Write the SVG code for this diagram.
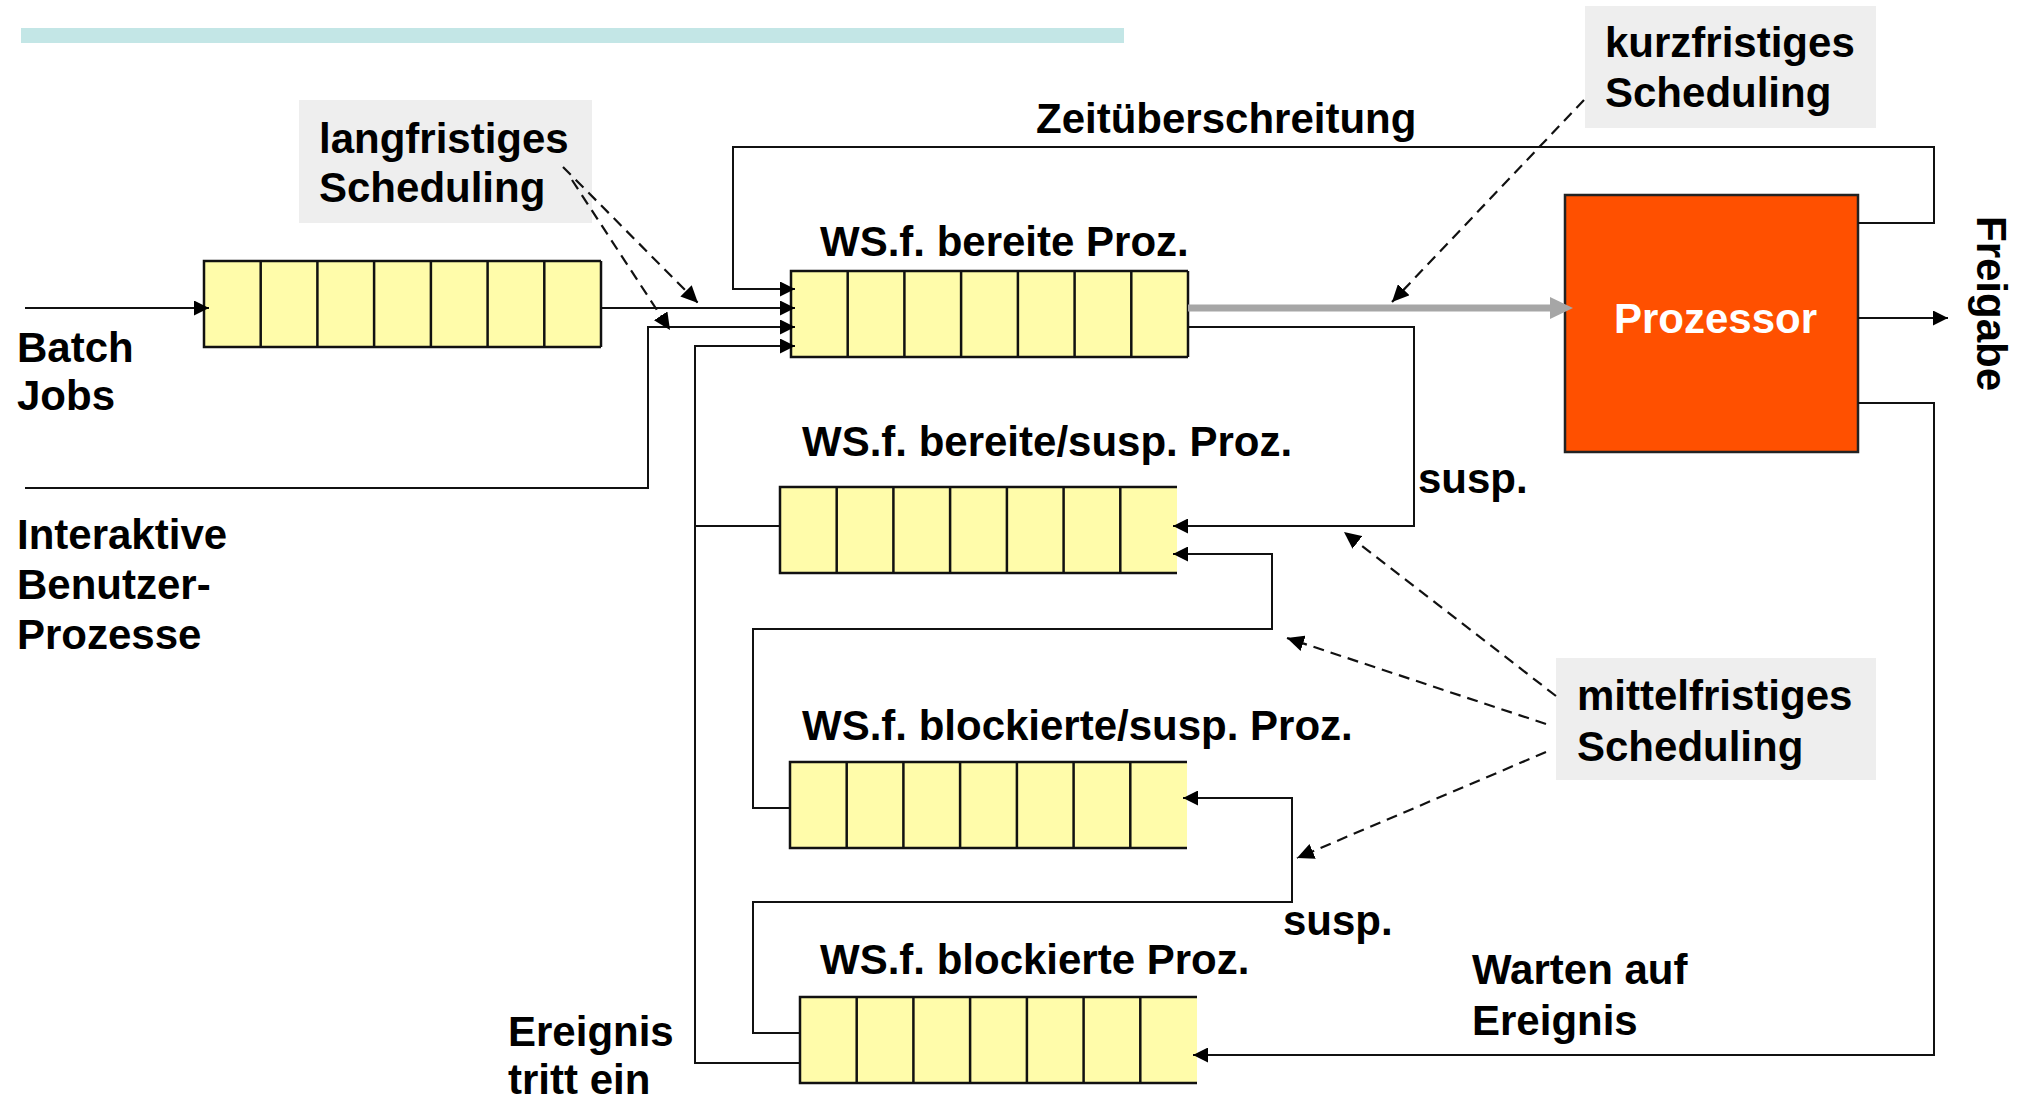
<svg xmlns="http://www.w3.org/2000/svg" xmlns:xlink="http://www.w3.org/1999/xlink" width="2029" height="1104" viewBox="0 0 2029 1104">
<style>
text{font-family:"Liberation Sans",Arial,sans-serif;font-weight:bold;font-size:42px;fill:#000}
.lbl{fill:#eeeeee}
.qf{fill:#fffcaa;stroke:none}
.qs{fill:none;stroke:#111;stroke-width:2.5}
.c{fill:none;stroke:#111;stroke-width:2}
.d{fill:none;stroke:#111;stroke-width:2.2;stroke-dasharray:11 7}
.g{fill:none;stroke:#a6a6a6;stroke-width:7}
</style>
<defs>
<marker id="ah" viewBox="0 0 15 15" refX="15" refY="7.5" markerWidth="15" markerHeight="15" markerUnits="userSpaceOnUse" orient="auto"><path d="M0,0 L15,7.5 L0,15 z" fill="#000"/></marker>
<marker id="ahd" viewBox="0 0 17 16" refX="17" refY="8" markerWidth="17" markerHeight="16" markerUnits="userSpaceOnUse" orient="auto"><path d="M0,0 L17,8 L0,16 z" fill="#000"/></marker>
<marker id="ahg" viewBox="0 0 23 22" refX="5" refY="11" markerWidth="23" markerHeight="22" markerUnits="userSpaceOnUse" orient="auto"><path d="M0,0 L23,11 L0,22 z" fill="#a6a6a6"/></marker>
<g id="qopen">
<rect class="qf" x="0" y="0" width="397" height="86"/>
<path class="qs" d="M397,0 H0 V86 H397 M56.7,0 V86 M113.4,0 V86 M170.1,0 V86 M226.9,0 V86 M283.6,0 V86 M340.3,0 V86"/>
</g>
<g id="qclosed">
<use xlink:href="#qopen" href="#qopen"/>
<path class="qs" d="M397,0 V86"/>
</g>
</defs>

<rect id="topbar" x="21" y="28" width="1103" height="15" fill="#c3e6e6"/>

<g id="label-langfristig">
<rect class="lbl" x="299" y="100" width="293" height="123"/>
<text x="319" y="153">langfristiges</text>
<text x="319" y="202">Scheduling</text>
</g>

<g id="label-kurzfristig">
<rect class="lbl" x="1585" y="6" width="291" height="122"/>
<text x="1605" y="57">kurzfristiges</text>
<text x="1605" y="107">Scheduling</text>
</g>

<g id="label-mittelfristig">
<rect class="lbl" x="1556" y="658" width="320" height="122"/>
<text x="1577" y="710">mittelfristiges</text>
<text x="1577" y="761">Scheduling</text>
</g>

<g id="batch-queue">
<use xlink:href="#qclosed" href="#qclosed" x="204" y="261"/>
<text x="17" y="362">Batch</text>
<text x="17" y="410">Jobs</text>
</g>

<g id="interaktiv">
<text x="17" y="549">Interaktive</text>
<text x="17" y="599">Benutzer-</text>
<text x="17" y="649">Prozesse</text>
</g>

<g id="ws-bereite">
<use xlink:href="#qclosed" href="#qclosed" x="791" y="271"/>
<text x="820" y="256">WS.f. bereite Proz.</text>
</g>

<g id="ws-bereite-susp">
<use xlink:href="#qopen" href="#qopen" x="780" y="487"/>
<text x="802" y="456">WS.f. bereite/susp. Proz.</text>
</g>

<g id="ws-blockierte-susp">
<use xlink:href="#qopen" href="#qopen" x="790" y="762"/>
<text x="802" y="740">WS.f. blockierte/susp. Proz.</text>
</g>

<g id="ws-blockierte">
<use xlink:href="#qopen" href="#qopen" x="800" y="997"/>
<text x="820" y="974">WS.f. blockierte Proz.</text>
</g>

<g id="prozessor">
<rect x="1565" y="195" width="293" height="257" fill="#ff5000" stroke="#222" stroke-width="2.5"/>
<text x="1614" y="333" style="fill:#fff">Prozessor</text>
</g>

<g id="edge-labels">
<text x="1036" y="133">Zeitüberschreitung</text>
<text x="1418" y="493">susp.</text>
<text x="1283" y="935">susp.</text>
<text x="1472" y="984">Warten auf</text>
<text x="1472" y="1035">Ereignis</text>
<text x="508" y="1046">Ereignis</text>
<text x="508" y="1094">tritt ein</text>
<text transform="translate(1977,216) rotate(90)">Freigabe</text>
</g>

<g id="connectors">
<path class="c" d="M25,308 H209" marker-end="url(#ah)"/>
<path class="c" d="M601,308 H795" marker-end="url(#ah)"/>
<path class="c" d="M25,488 H648 V327 H795" marker-end="url(#ah)"/>
<path class="c" d="M1858,223 H1934 V147 H733 V289 H795" marker-end="url(#ah)"/>
<path class="c" d="M800,1063 H695 V346 H795" marker-end="url(#ah)"/>
<path class="c" d="M781,526 H695"/>
<path class="g" d="M1188,308 H1555" marker-end="url(#ahg)"/>
<path class="c" d="M1858,318 H1948" marker-end="url(#ah)"/>
<path class="c" d="M1858,403 H1934 V1055 H1193" marker-end="url(#ah)"/>
<path class="c" d="M1188,327 H1414 V526 H1173" marker-end="url(#ah)"/>
<path class="c" d="M790,808 H753 V629 H1272 V554 H1173" marker-end="url(#ah)"/>
<path class="c" d="M800,1033 H753 V902 H1292 V798 H1183" marker-end="url(#ah)"/>
<path class="d" d="M563,167 L698,303" marker-end="url(#ahd)"/>
<path class="d" d="M572,180 L670,330" marker-end="url(#ahd)"/>
<path class="d" d="M1584,100 L1392,302" marker-end="url(#ahd)"/>
<path class="d" d="M1556,696 L1344,532" marker-end="url(#ahd)"/>
<path class="d" d="M1546,724 L1287,638" marker-end="url(#ahd)"/>
<path class="d" d="M1546,752 L1297,858" marker-end="url(#ahd)"/>
</g>
</svg>
